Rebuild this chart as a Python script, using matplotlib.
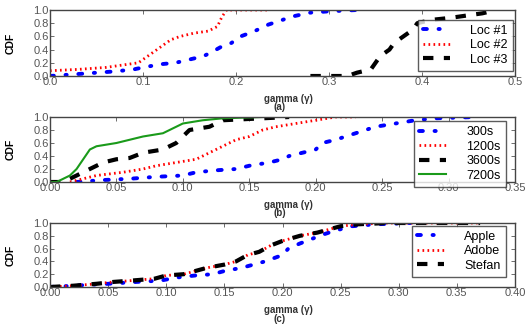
import matplotlib
matplotlib.use("Agg")
import matplotlib.pyplot as plt

# (a) location
loc1_x = [0.0, 0.02, 0.05, 0.07, 0.09, 0.10, 0.12, 0.135, 0.15, 0.165, 0.175, 0.185, 0.195,
          0.205, 0.22, 0.235, 0.25, 0.26, 0.28, 0.30, 0.33]
loc1_y = [0.0, 0.02, 0.05, 0.07, 0.10, 0.13, 0.18, 0.20, 0.25, 0.30, 0.37, 0.45, 0.50,
          0.60, 0.68, 0.78, 0.85, 0.90, 0.96, 0.98, 1.0]
loc2_x = [0.0, 0.03, 0.06, 0.08, 0.095, 0.10, 0.11, 0.12, 0.13, 0.14, 0.155, 0.17, 0.18,
          0.185, 0.19, 0.235]
loc2_y = [0.08, 0.10, 0.13, 0.17, 0.20, 0.25, 0.35, 0.45, 0.55, 0.60, 0.65, 0.68, 0.75,
          0.90, 1.0, 1.0]
loc3_x = [0.28, 0.32, 0.33, 0.345, 0.35, 0.355, 0.365, 0.37, 0.38, 0.39, 0.395, 0.41,
          0.43, 0.45, 0.465, 0.48]
loc3_y = [0.0, 0.0, 0.05, 0.10, 0.20, 0.30, 0.40, 0.50, 0.60, 0.70, 0.80, 0.85,
          0.88, 0.92, 0.95, 1.0]

# (b) interval
s300_x = [0.02, 0.04, 0.06, 0.08, 0.10, 0.11, 0.125, 0.14, 0.15, 0.165, 0.175, 0.18, 0.19,
          0.20, 0.205, 0.215, 0.23, 0.245, 0.26, 0.275, 0.29, 0.32]
s300_y = [0.0, 0.03, 0.05, 0.08, 0.10, 0.15, 0.18, 0.20, 0.25, 0.30, 0.35, 0.40, 0.45,
          0.50, 0.60, 0.65, 0.75, 0.85, 0.90, 0.95, 0.98, 1.0]
s1200_x = [0.015, 0.025, 0.035, 0.055, 0.07, 0.08, 0.095, 0.11, 0.12, 0.13, 0.14, 0.15,
           0.16, 0.17, 0.185, 0.20, 0.215, 0.23]
s1200_y = [0.0, 0.05, 0.10, 0.15, 0.20, 0.25, 0.30, 0.35, 0.45, 0.55, 0.65, 0.70,
           0.80, 0.85, 0.90, 0.95, 1.0, 1.0]
s3600_x = [0.0, 0.01, 0.02, 0.03, 0.04, 0.05, 0.06, 0.07, 0.085, 0.095, 0.10, 0.105,
           0.12, 0.13, 0.15, 0.18]
s3600_y = [0.0, 0.0, 0.10, 0.20, 0.30, 0.35, 0.37, 0.45, 0.50, 0.60, 0.70, 0.80,
           0.85, 0.95, 0.97, 1.0]
s7200_x = [0.0, 0.005, 0.01, 0.015, 0.02, 0.025, 0.03, 0.035, 0.05, 0.06, 0.07, 0.085,
           0.09, 0.10, 0.115, 0.13, 0.16]
s7200_y = [0.0, 0.0, 0.05, 0.10, 0.20, 0.35, 0.50, 0.55, 0.60, 0.65, 0.70, 0.75,
           0.80, 0.90, 0.95, 0.98, 1.0]

# (c) video
apple_x = [0.0, 0.02, 0.05, 0.075, 0.095, 0.11, 0.125, 0.14, 0.15, 0.165, 0.175, 0.185,
           0.20, 0.205, 0.215, 0.225, 0.235, 0.245, 0.26, 0.28, 0.31]
apple_y = [0.0, 0.02, 0.05, 0.08, 0.10, 0.15, 0.18, 0.20, 0.25, 0.30, 0.35, 0.40,
           0.50, 0.60, 0.68, 0.75, 0.82, 0.88, 0.95, 0.98, 1.0]
adobe_x = [0.0, 0.02, 0.04, 0.055, 0.07, 0.09, 0.10, 0.115, 0.125, 0.135, 0.15, 0.16,
           0.17, 0.18, 0.19, 0.20, 0.215, 0.23, 0.24, 0.25, 0.265, 0.29, 0.37]
adobe_y = [0.0, 0.02, 0.05, 0.08, 0.10, 0.13, 0.18, 0.20, 0.25, 0.30, 0.35, 0.40,
           0.50, 0.55, 0.65, 0.72, 0.80, 0.85, 0.90, 0.95, 0.98, 1.0, 1.0]
stefan_x = [0.0, 0.02, 0.04, 0.055, 0.07, 0.09, 0.10, 0.115, 0.125, 0.135, 0.15, 0.16,
            0.17, 0.18, 0.19, 0.20, 0.215, 0.23, 0.24, 0.25, 0.265, 0.29, 0.37]
stefan_y = [0.0, 0.02, 0.05, 0.08, 0.10, 0.13, 0.18, 0.20, 0.25, 0.30, 0.35, 0.40,
            0.50, 0.55, 0.65, 0.72, 0.80, 0.85, 0.90, 0.95, 0.98, 1.0, 1.0]

plt.rcParams["font.family"] = ["Liberation Sans", "DejaVu Sans"]

blue = dict(color="blue", linestyle=(0, (1, 3, 0.3, 3)), linewidth=2.8, dash_capstyle="round")
red = dict(color="red", linestyle=(0, (0.6, 1.2)), linewidth=2.0)
black = dict(color="black", linestyle=(0, (2.5, 2.5)), linewidth=3.0)
green = dict(color="#1a9a1a", linestyle="-", linewidth=1.5)


def style_axes(ax, xmax, xticks, fmt):
    ax.set_xlim(0, xmax)
    ax.set_ylim(0, 1.0)
    ax.set_xticks(xticks)
    ax.set_xticklabels([fmt % t for t in xticks])
    ax.set_yticks([0.0, 0.2, 0.4, 0.6, 0.8, 1.0])
    ax.tick_params(direction="in", top=True, right=True, length=3, width=0.6,
                   labelsize=8, labelcolor="#555555", pad=1, color="#555555")
    for s in ax.spines.values():
        s.set_color("#444444")
        s.set_linewidth(1.0)
    ax.set_ylabel("CDF", fontsize=7.5, fontweight="bold")
    ax.yaxis.set_label_coords(-34 / 465, 0.5)


fig = plt.figure(figsize=(5.31, 3.26), dpi=100)
W, H = 531, 326
L, R = 50, 515


def add(top, bottom):
    return fig.add_axes([L / W, 1 - bottom / H, (R - L) / W, (bottom - top) / H])


ax1 = add(10, 76)
ax1.plot(loc1_x, loc1_y, label="Loc #1", **blue)
ax1.plot(loc2_x, loc2_y, label="Loc #2", **red)
ax1.plot(loc3_x, loc3_y, label="Loc #3", **black)
style_axes(ax1, 0.5, [0.0, 0.1, 0.2, 0.3, 0.4, 0.5], "%.1f")

ax2 = add(117, 182)
ax2.plot(s300_x, s300_y, label="300s", **blue)
ax2.plot(s1200_x, s1200_y, label="1200s", **red)
ax2.plot(s3600_x, s3600_y, label="3600s", **black)
ax2.plot(s7200_x, s7200_y, label="7200s", **green)
style_axes(ax2, 0.35, [0.0, 0.05, 0.10, 0.15, 0.20, 0.25, 0.30, 0.35], "%.2f")

ax3 = add(223, 287)
ax3.plot(apple_x, apple_y, label="Apple", **blue)
ax3.plot(adobe_x, adobe_y, label="Adobe", **red)
ax3.plot(stefan_x, stefan_y, label="Stefan", **black)
style_axes(ax3, 0.4, [0.0, 0.05, 0.10, 0.15, 0.20, 0.25, 0.30, 0.35, 0.40], "%.2f")

for ax, anchor in [(ax1, (1.0, 0.04)), (ax2, (0.985, -0.11)), (ax3, (0.985, 0.12))]:
    leg = ax.legend(loc="lower right", bbox_to_anchor=anchor, fontsize=9, frameon=True,
                    fancybox=False, handlelength=2.2, handletextpad=1.6,
                    labelspacing=0.2, borderpad=0.4, borderaxespad=0.2)
    leg.get_frame().set_edgecolor("#333333")
    leg.get_frame().set_linewidth(1.0)

for bottom, tag in [(76, "(a)"), (182, "(b)"), (287, "(c)")]:
    fig.text(288 / W, 1 - (bottom + 23) / H, "gamma (γ)", fontsize=7, fontweight="bold",
             ha="center", va="center", color="#333333")
    fig.text(280 / W, 1 - (bottom + 31.5) / H, tag, fontsize=7, fontweight="bold",
             ha="center", va="center", color="#333333")

fig.savefig("out.png", dpi=100)
